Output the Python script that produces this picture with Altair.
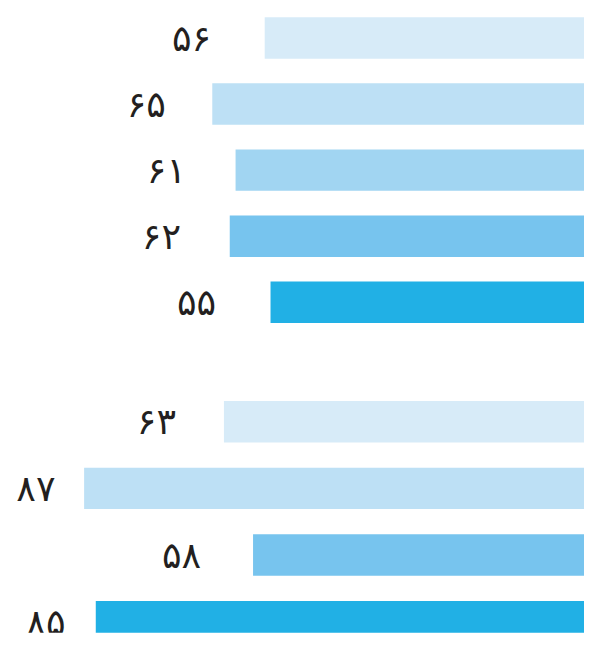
import altair as alt
import pandas as pd

# Group 1
group1_labels = ["۵۶", "۶۵", "۶۱", "۶۲", "۵۵"]
group1_values = [56, 65, 61, 62, 55]
group1_shades = ["s1", "s2", "s3", "s4", "s5"]

# Group 2
group2_labels = ["۶۳", "۸۷", "۵۸", "۸۵"]
group2_values = [63, 87, 58, 85]
group2_shades = ["s1", "s2", "s4", "s5"]

shade_names = ["s1", "s2", "s3", "s4", "s5"]
shade_colors = ["#D7EBF8", "#BDE0F5", "#A1D5F2", "#77C4EE", "#21B0E5"]


def panel(labels, values, shades, height, yscale):
    df = pd.DataFrame({
        "row": list(range(len(values))),
        "value": values,
        "label": labels,
        "shade": shades,
    })
    base = alt.Chart(df)
    bars = base.mark_bar(clip=True).encode(
        y=alt.Y("row:O", axis=None, scale=yscale),
        x=alt.X("value:Q", axis=None,
                scale=alt.Scale(domain=[0, 100], range=[591, 0.4])),
        color=alt.Color("shade:N", legend=None,
                        scale=alt.Scale(domain=shade_names, range=shade_colors)),
    )
    text = base.mark_text(
        align="right", baseline="middle", dy=2,
        font="DejaVu Sans", fontSize=37, fontWeight="normal",
        color="#231F20", clip=True,
    ).encode(
        y=alt.Y("row:O", axis=None, scale=yscale),
        x=alt.X("value:Q", axis=None,
                scale=alt.Scale(domain=[0, 100], range=[491, -18])),
        text="label:N",
    )
    return alt.layer(bars, text).resolve_scale(x="independent").properties(
        width=584, height=height
    )


c1 = panel(group1_labels, group1_values, group1_shades, 320,
           alt.Scale(range=[0, 320], round=False,
                     paddingInner=0.373, paddingOuter=0.0746))
c2 = panel(group2_labels, group2_values, group2_shades, 240,
           alt.Scale(range=[0, 255], round=False,
                     paddingInner=0.378, paddingOuter=0.074))

chart = alt.vconcat(c1, c2, spacing=69).properties(
    padding=0, background="white"
).configure_view(stroke=None)

chart.save("out.html", embed_options={"renderer": "svg", "actions": False})
